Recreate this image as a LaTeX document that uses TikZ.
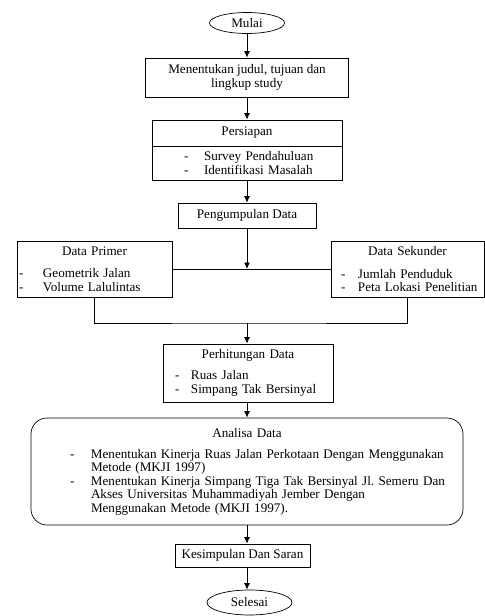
\documentclass[tikz,border=0pt]{standalone}
\usepackage{fontspec}
\setmainfont{Liberation Serif}
\usepackage{tikz}
\usetikzlibrary{positioning,calc,shapes.geometric,arrows.meta}
\setlength{\parindent}{0pt}
\frenchspacing
\newlength{\px}
\setlength{\px}{0.03cm}
\newcommand{\teks}{\fontsize{11.2}{11.5}\selectfont}
\newcommand{\judulbox}[1]{\hfill#1\hfill\null}
\newcommand{\butir}[3]{\hspace*{#1\px}\makebox[#2\px][l]{-}\mbox{#3}}
\newcommand{\sambung}[2]{\hspace*{#1\px}\mbox{#2}}

\begin{document}
\begin{tikzpicture}[
  x=0.03cm, y=-0.03cm,
  kotak/.style={rectangle,draw,line width=0.6pt,inner sep=2\px,align=center,font=\teks},
  daftar/.style={kotak,align=left},
  ujung/.style={ellipse,draw,line width=0.6pt,inner sep=0pt,font=\teks},
  panah/.style={->,>={Latex[length=5.5pt,width=5pt]},line width=0.7pt},
  garis/.style={line width=0.7pt}
]
  \useasboundingbox (0,0) rectangle (485,616);

  \node[ujung,minimum width=75\px,minimum height=21\px] (mulai) at (247,23) {Mulai};
  \node[kotak,minimum width=203\px,minimum height=39\px] (judul) at (247,77.5)
    {Menentukan judul, tujuan dan\\lingkup study};
  \node[kotak,minimum width=190\px,minimum height=26\px] (persiapan) at (247,133) {Persiapan};
  \node[daftar,text width=186\px,minimum height=34\px] (survei) at (247,163)
    {\butir{30}{20}{Survey Pendahuluan}\\
     \butir{30}{20}{Identifikasi Masalah}};
  \node[kotak,minimum width=138\px,minimum height=25\px] (kumpul) at (247,215.5) {Pengumpulan Data};

  % data primer dan sekunder
  \node[daftar,text width=151\px,minimum height=56\px] (primer) at (94.5,269)
    {\judulbox{Data Primer}\\[8pt]
     \butir{0}{24}{Geometrik Jalan}\\
     \butir{0}{24}{Volume Lalulintas}};
  \node[daftar,text width=149\px,minimum height=56\px] (sekunder) at (407.5,269)
    {\judulbox{Data Sekunder}\\[8pt]
     \butir{8}{17}{Jumlah Penduduk}\\
     \butir{8}{17}{Peta Lokasi Penelitian}};
  \coordinate (gabung) at (247,323);

  \node[daftar,text width=166\px,minimum height=58\px] (hitung) at (248,373)
    {\judulbox{Perhitungan Data}\\[6.4pt]
     \butir{10}{16}{Ruas Jalan}\\
     \butir{10}{16}{Simpang Tak Bersinyal}};
  \node[daftar,rounded corners=16\px,text width=428\px,minimum height=107\px] (analisa) at (247,471.5)
    {\judulbox{Analisa Data}\\[6.4pt]
     \butir{37}{21}{Menentukan Kinerja Ruas Jalan Perkotaan Dengan Menggunakan}\\
     \sambung{58}{Metode (MKJI 1997)}\\
     \butir{37}{21}{Menentukan Kinerja Simpang Tiga Tak Bersinyal Jl. Semeru Dan}\\
     \sambung{58}{Akses Universitas Muhammadiyah Jember Dengan}\\
     \sambung{58}{Menggunakan Metode (MKJI 1997).}};
  \node[kotak,minimum width=135\px,minimum height=23\px] (simpulan) at (242.5,555.5) {Kesimpulan Dan Saran};
  \node[ujung,minimum width=85\px,minimum height=25\px] (selesai) at (249.5,602.5) {Selesai};

  \draw[panah] (mulai) -- (judul);
  \draw[panah] (judul) -- (persiapan);
  \draw[panah] (survei) -- (kumpul);
  \draw[garis] (primer) -- (sekunder);
  \draw[panah] (kumpul) -- (kumpul |- primer);
  \draw[garis] (primer.south) |- (gabung) -| (sekunder.south);
  \draw[panah] (gabung) -- (gabung |- hitung.north);
  \draw[panah] (hitung.south -| analisa) -- (analisa.north);
  \draw[panah] (analisa.south) -- (analisa.south |- simpulan.north);
  \draw[panah] (simpulan.south -| analisa) -- (selesai.north -| analisa);
\end{tikzpicture}
\end{document}
